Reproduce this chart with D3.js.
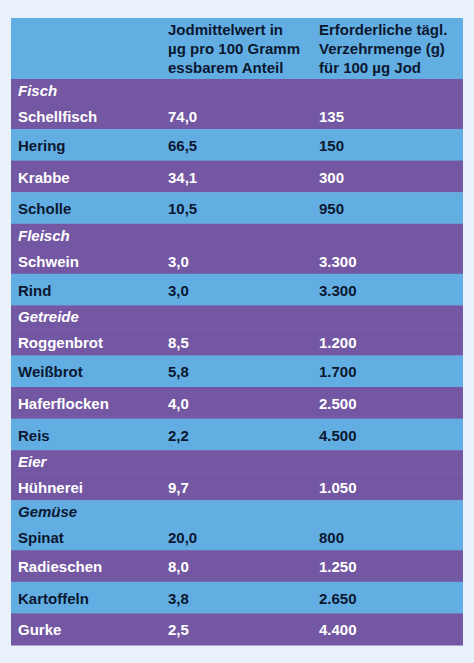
<!DOCTYPE html>
<html><head><meta charset="utf-8">
<script src="https://cdn.jsdelivr.net/npm/d3@7"></script>
<style>body{margin:0;background:#e9f2fb;}</style>
</head><body>
<script>
const headers = [["Jodmittelwert in", "µg pro 100 Gramm", "essbarem Anteil"], ["Erforderliche tägl.", "Verzehrmenge (g)", "für 100 µg Jod"]];
const labels = ["Fisch","Schellfisch","Hering","Krabbe","Scholle","Fleisch","Schwein","Rind","Getreide","Roggenbrot","Weißbrot","Haferflocken","Reis","Eier","Hühnerei","Gemüse","Spinat","Radieschen","Kartoffeln","Gurke"];
const jod = ["","74,0","66,5","34,1","10,5","","3,0","3,0","","8,5","5,8","4,0","2,2","","9,7","","20,0","8,0","3,8","2,5"];
const menge = ["","135","150","300","950","","3.300","3.300","","1.200","1.700","2.500","4.500","","1.050","","800","1.250","2.650","4.400"];
const isCategory = [1,0,0,0,0,1,0,0,1,0,0,0,0,1,0,1,0,0,0,0];
const shade = ["p","p","b","p","b","p","p","b","p","p","b","p","b","p","p","b","b","p","b","p"];

(function(){
const W=474,H=663, X0=11, X1=463, T0=18, headH=61;
const svg=d3.select("body").append("svg").attr("width",W).attr("height",H);
svg.append("rect").attr("width",W).attr("height",H).attr("fill","#e9f2fb");
const col={p:"#7457a3",b:"#62aee3"};
const txt={p:"#ffffff",b:"#0b1830"};
const hts=labels.map((d,i)=>isCategory[i]?23:(i>0&&isCategory[i-1]?27:31.6));
const ys=[];let acc=T0+headH;hts.forEach(h=>{ys.push(acc);acc+=h;});
const cx={a:18,b:168,c:319};
const font="'Liberation Sans', Arial, sans-serif";
svg.append("rect").attr("x",X0).attr("y",T0).attr("width",X1-X0).attr("height",headH).attr("fill",col.b);
headers.forEach((h,k)=>{
  h.forEach((line,j)=>{
    svg.append("text").attr("x",k?cx.c:cx.b).attr("y",T0+17+j*19).text(line)
      .attr("font-family",font).attr("font-weight","bold").attr("font-size",15).attr("fill","#0b1830");
  });
});
const g=svg.selectAll("g.row").data(labels).join("g").attr("class","row").attr("transform",(d,i)=>`translate(0,${ys[i]})`);
g.append("rect").attr("x",X0).attr("width",X1-X0).attr("height",(d,i)=>hts[i]+0.5).attr("fill",(d,i)=>col[shade[i]]);
const base=(i)=>isCategory[i]?17:(isCategory[i-1]?20:22);
const cols=[labels,jod,menge];
cols.forEach((arr,c)=>{
  g.append("text").attr("x",[cx.a,cx.b,cx.c][c]).attr("y",(d,i)=>base(i)).text((d,i)=>arr[i])
    .attr("font-family",font).attr("font-weight","bold").attr("font-size",15)
    .attr("font-style",(d,i)=>c===0&&isCategory[i]?"italic":"normal")
    .attr("fill",(d,i)=>txt[shade[i]]);
});
})();
</script>
</body></html>
